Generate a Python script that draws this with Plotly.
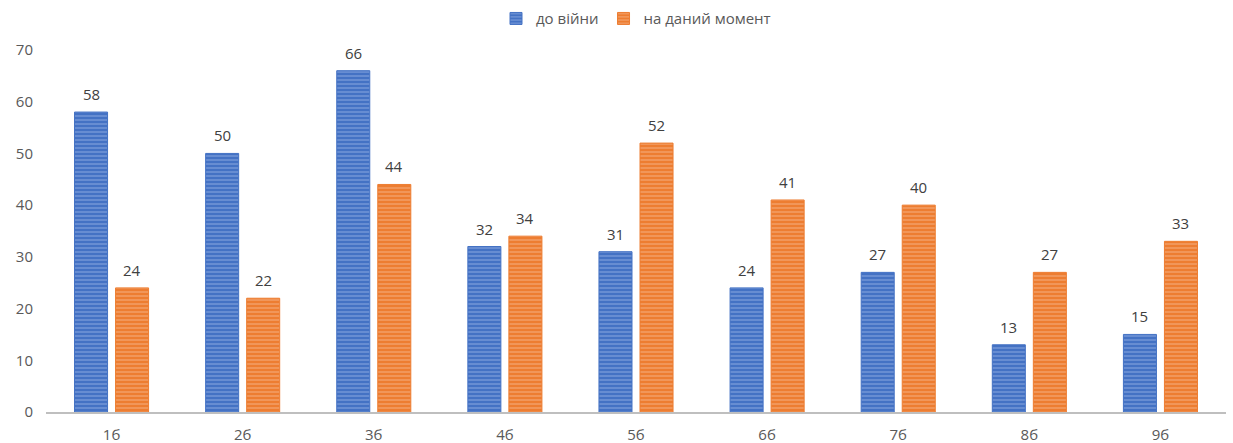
import plotly.graph_objects as go

categories = ["1б", "2б", "3б", "4б", "5б", "6б", "7б", "8б", "9б"]
before_war = [58, 50, 66, 32, 31, 24, 27, 13, 15]
current = [24, 22, 44, 34, 52, 41, 40, 27, 33]

FONT = "Open Sans"
TEXT = "#404040"
AXIS_TEXT = "#595959"

def striped(name, values, base, stripe):
    return go.Bar(
        name=name,
        x=categories,
        y=values,
        marker=dict(
            color=base,
            line=dict(color=base, width=1),
            pattern=dict(shape="-", fgcolor=stripe, bgcolor=base,
                         size=4, solidity=0.35, fillmode="overlay"),
        ),
    )

fig = go.Figure([
    striped("до війни", before_war, "#4472C4", "#A9C0EA"),
    striped("на даний момент", current, "#ED7D31", "#F8C6A2"),
])

# value labels above each bar, shifted onto the left / right bar of the group
for values, dx in ((before_war, -20.5), (current, 20.5)):
    for cat, v in zip(categories, values):
        fig.add_annotation(x=cat, y=v, text=str(v), showarrow=False,
                           xshift=dx, yshift=6, yanchor="bottom",
                           font=dict(family=FONT, size=15, color=TEXT))

fig.update_layout(
    width=1233, height=443,
    margin=dict(l=46, r=7, t=50, b=31),
    paper_bgcolor="white", plot_bgcolor="white",
    barmode="group", bargap=0.374, bargroupgap=0.195,
    font=dict(family=FONT, size=15, color=AXIS_TEXT),
    legend=dict(orientation="h", x=0.5, xanchor="center", y=0.995, yanchor="top",
                yref="container", font=dict(family=FONT, size=15, color=AXIS_TEXT),
                itemwidth=30, traceorder="normal"),
    showlegend=True,
)
fig.update_xaxes(showline=True, linecolor="#BFBFBF", linewidth=2, ticks="",
                 ticklabelstandoff=8, automargin=False,
                 tickfont=dict(family=FONT, size=15, color=AXIS_TEXT))
fig.update_yaxes(range=[0, 70], dtick=10, showgrid=False, zeroline=False,
                 ticks="", ticklabelstandoff=12, automargin=False,
                 tickfont=dict(family=FONT, size=15, color=AXIS_TEXT))

fig.write_html("out.html")
